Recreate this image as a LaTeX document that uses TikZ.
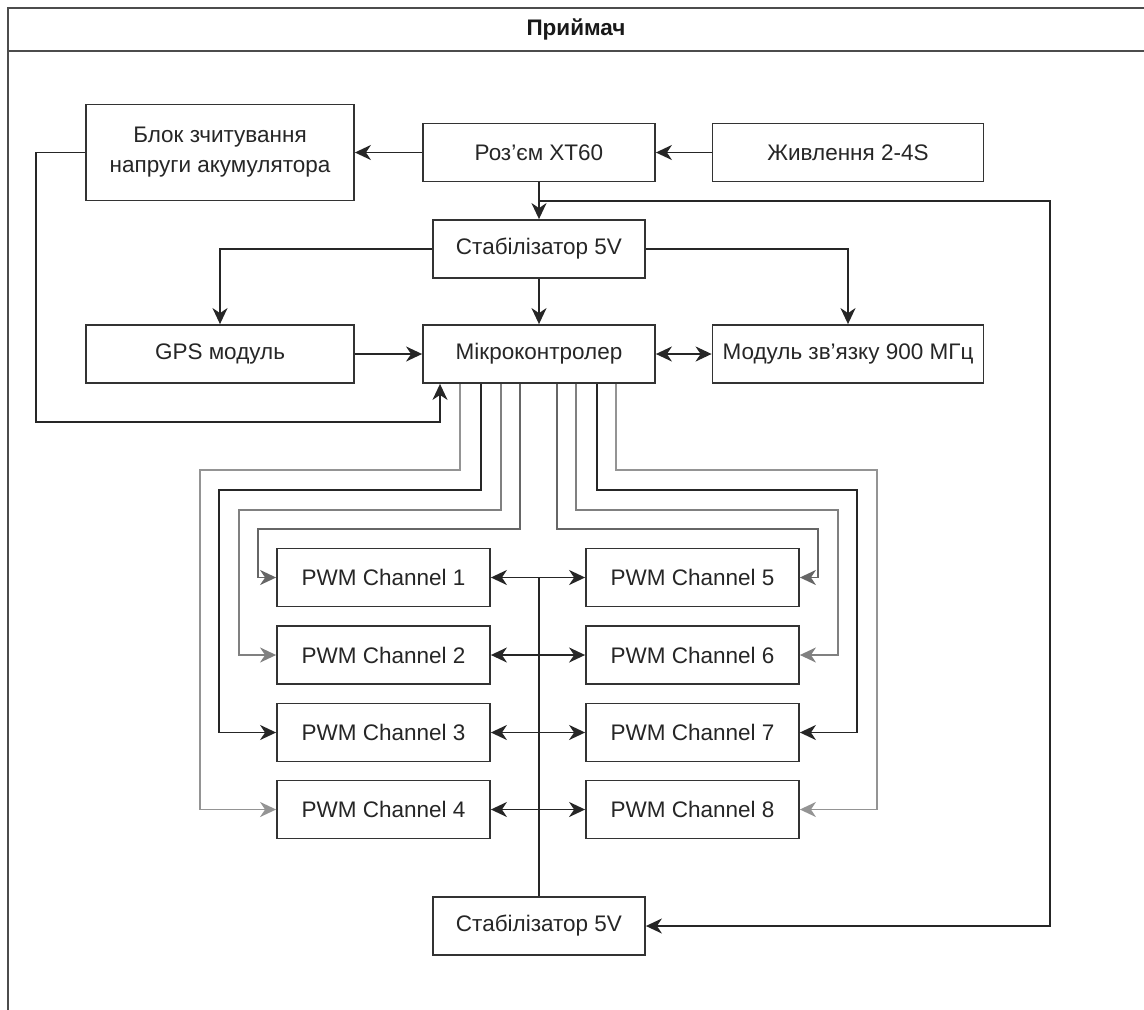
\documentclass[tikz,border=0pt]{standalone}
\usepackage{fontspec}
\setmainfont{Liberation Sans}
\usetikzlibrary{arrows.meta,calc}
\begin{document}
\begin{tikzpicture}[x=1pt,y=-1pt,
  box/.style={draw=black!80,line width=1.8pt,fill=white,inner sep=0pt,align=center,
    font=\fontsize{22.5}{30}\selectfont,text=black!85},
  ln/.style={line width=1.8pt,draw=black!85},
  arr/.style={ln,-{Stealth[length=16pt,width=15pt,inset=5pt]}},
  barr/.style={ln,{Stealth[length=16pt,width=15pt,inset=5pt]}-{Stealth[length=16pt,width=15pt,inset=5pt]}},
  wa/.style={draw=black!60},
  wb/.style={draw=black!50},
  wc/.style={draw=black!85},
  wd/.style={draw=black!42},
]
\clip (0,0) rectangle (1144,1010);
\fill[white] (0,0) rectangle (1144,1010);
% container
\draw[line width=1.8pt, black!70] (1160,8) -- (8,8) -- (8,1030);
\draw[line width=1.8pt, black!70] (8,51) -- (1160,51);
\node[font=\bfseries\fontsize{22.5}{27}\selectfont,text=black!90] (title) at (576,29) {Приймач};

% nodes
\node[box,minimum width=268pt,minimum height=96pt] (blok) at (220,152.5) {Блок зчитування\\напруги акумулятора};
\node[box,minimum width=232pt,minimum height=58pt] (xt) at (539,152.5) {Роз'єм XT60};
\node[box,minimum width=271pt,minimum height=58pt] (zhyv) at (848,152.5) {Живлення 2-4S};
\node[box,minimum width=212pt,minimum height=58pt] (stab1) at (539,249) {Стабілізатор 5V};
\node[box,minimum width=268pt,minimum height=58pt] (gps) at (220,354) {GPS модуль};
\node[box,minimum width=232pt,minimum height=58pt] (mcu) at (539,354) {Мікроконтролер};
\node[box,minimum width=271pt,minimum height=58pt] (mod) at (848,354) {Модуль зв'язку 900 МГц};

\node[box,minimum width=213pt,minimum height=58pt] (p1) at (383.5,577.5) {PWM Channel 1};
\node[box,minimum width=213pt,minimum height=58pt] (p2) at (383.5,655) {PWM Channel 2};
\node[box,minimum width=213pt,minimum height=58pt] (p3) at (383.5,732.5) {PWM Channel 3};
\node[box,minimum width=213pt,minimum height=58pt] (p4) at (383.5,809.5) {PWM Channel 4};
\node[box,minimum width=213pt,minimum height=58pt] (p5) at (692.5,577.5) {PWM Channel 5};
\node[box,minimum width=213pt,minimum height=58pt] (p6) at (692.5,655) {PWM Channel 6};
\node[box,minimum width=213pt,minimum height=58pt] (p7) at (692.5,732.5) {PWM Channel 7};
\node[box,minimum width=213pt,minimum height=58pt] (p8) at (692.5,809.5) {PWM Channel 8};

\node[box,minimum width=212pt,minimum height=58pt] (stab2) at (539,926) {Стабілізатор 5V};

% power connections
\draw[arr] (xt.west) -- (blok.east);
\draw[arr] (zhyv.west) -- (xt.east);
\draw[arr] (xt.south) -- (stab1.north);
\coordinate (j) at (539,201);
\draw[arr] (j) -- (1050,201) |- (stab2.east);
\draw[arr] (stab1.west) -| (gps.north);
\draw[arr] (stab1.east) -| (mod.north);
\draw[arr] (stab1.south) -- (mcu.north);
\draw[arr] (gps.east) -- (mcu.west);
\draw[barr] (mcu.east) -- (mod.west);
\draw[arr] (blok.west) -| (36,422) -| ([xshift=-99pt]mcu.south);

% PWM wiring
\draw[arr,wd] ([xshift=-79pt]mcu.south) |- (200,470) |- (p4.west);
\draw[arr,wc] ([xshift=-58pt]mcu.south) |- (219,490) |- (p3.west);
\draw[arr,wb] ([xshift=-38pt]mcu.south) |- (239,510) |- (p2.west);
\draw[arr,wa] ([xshift=-19pt]mcu.south) |- (258,529) |- (p1.west);
\draw[arr,wa] ([xshift=18pt]mcu.south) |- (818,529) |- (p5.east);
\draw[arr,wb] ([xshift=37pt]mcu.south) |- (838,510) |- (p6.east);
\draw[arr,wc] ([xshift=58pt]mcu.south) |- (857,490) |- (p7.east);
\draw[arr,wd] ([xshift=77pt]mcu.south) |- (877,470) |- (p8.east);

% PWM bus
\draw[ln] (stab2.north) -- (stab2.north |- p1.east);
\draw[barr] (p1.east) -- (p5.west);
\draw[barr] (p2.east) -- (p6.west);
\draw[barr] (p3.east) -- (p7.west);
\draw[barr] (p4.east) -- (p8.west);
\end{tikzpicture}
\end{document}
